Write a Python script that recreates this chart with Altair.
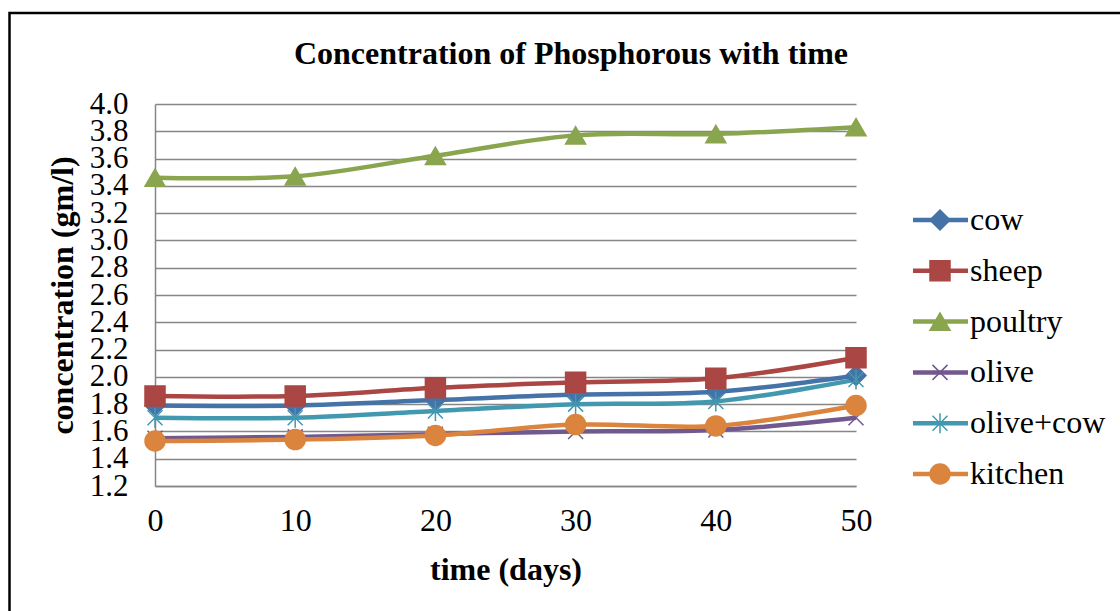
import altair as alt
import pandas as pd

# Phosphorous concentration (gm/l) measured every 10 days
days = [0, 10, 20, 30, 40, 50]
series_names = ["cow", "sheep", "poultry", "olive", "olive+cow", "kitchen"]
cow = [1.79, 1.79, 1.83, 1.87, 1.89, 2.01]
sheep = [1.86, 1.86, 1.92, 1.96, 1.99, 2.14]
poultry = [3.46, 3.47, 3.62, 3.77, 3.78, 3.83]
olive = [1.55, 1.56, 1.58, 1.60, 1.61, 1.70]
olive_cow = [1.70, 1.70, 1.75, 1.80, 1.82, 1.98]
kitchen = [1.53, 1.54, 1.57, 1.65, 1.64, 1.79]

y_ticks = [1.2, 1.4, 1.6, 1.8, 2.0, 2.2, 2.4, 2.6, 2.8, 3.0, 3.2, 3.4, 3.6, 3.8, 4.0]
x_ticks = [0, 10, 20, 30, 40, 50]

colors = ["#4572A7", "#AA4643", "#89A54E", "#71588F", "#4198AF", "#DB843D"]
shapes = [
    "diamond",
    "square",
    "triangle-up",
    "M-0.75,-0.75L0.75,0.75M0.75,-0.75L-0.75,0.75",
    "M-0.75,-0.75L0.75,0.75M0.75,-0.75L-0.75,0.75M0,-1L0,1",
    "circle",
]

title_text = "Concentration of Phosphorous with time"
FONT = "Liberation Serif"

values = [cow, sheep, poultry, olive, olive_cow, kitchen]
rows = []
for name, vals in zip(series_names, values):
    for d, v in zip(days, vals):
        rows.append({"time": d, "conc": v, "series": name})
df = pd.DataFrame(rows)
legend_df = pd.DataFrame({"series": series_names})

color_scale = alt.Scale(domain=series_names, range=colors)
shape_scale = alt.Scale(domain=series_names, range=shapes)
y_scale = alt.Scale(domain=[1.2, 4.0], nice=False, zero=False)
x_scale = alt.Scale(domain=[0, 50], nice=False)
legend_y = alt.Scale(type="point", domain=series_names, range=[116, 370], padding=0)

x_enc = alt.X(
    "time:Q", scale=x_scale,
    axis=alt.Axis(values=x_ticks, title="time (days)", grid=False, ticks=False,
                  labelFlush=False, labelPadding=19, titleY=93,
                  titleBaseline="alphabetic"),
)

lines = alt.Chart(df).mark_line(interpolate="catmull-rom", strokeWidth=4.5).encode(
    x=x_enc,
    y=alt.Y(
        "conc:Q", scale=y_scale,
        axis=alt.Axis(values=y_ticks, format=".1f", title="concentration (gm/l)",
                      ticks=False, labelPadding=27, labelFlush=False,
                      labelOverlap=False, labelFontSize=31,
                      titleX=-83, titleY=191,
                      titleBaseline="alphabetic", titleAngle=-90),
    ),
    color=alt.Color("series:N", scale=color_scale, legend=None),
)

points = alt.Chart(df).mark_point(filled=True, size=400, strokeWidth=1.5, opacity=1).encode(
    x=alt.X("time:Q", scale=x_scale),
    y=alt.Y("conc:Q", scale=y_scale, axis=None),
    fill=alt.Fill("series:N", scale=color_scale, legend=None),
    stroke=alt.Stroke("series:N", scale=color_scale, legend=None),
    shape=alt.Shape("series:N", scale=shape_scale, legend=None),
)

# legend drawn beside the plot: a short line, the marker and the name
leg_line = alt.Chart(legend_df).mark_rule(strokeWidth=4.5).encode(
    x=alt.value(758), x2=alt.value(813),
    y=alt.Y("series:N", scale=legend_y, axis=None),
    color=alt.Color("series:N", scale=color_scale, legend=None),
)
leg_point = alt.Chart(legend_df).mark_point(filled=True, size=400, strokeWidth=1.5, opacity=1).encode(
    x=alt.value(785),
    y=alt.Y("series:N", scale=legend_y, axis=None),
    fill=alt.Fill("series:N", scale=color_scale, legend=None),
    stroke=alt.Stroke("series:N", scale=color_scale, legend=None),
    shape=alt.Shape("series:N", scale=shape_scale, legend=None),
)
leg_text = alt.Chart(legend_df).mark_text(
    align="left", baseline="middle", font=FONT, fontSize=32, color="black"
).encode(
    x=alt.value(815),
    y=alt.Y("series:N", scale=legend_y, axis=None),
    text="series:N",
)

title = alt.Chart(pd.DataFrame({"t": [title_text]})).mark_text(
    align="center", baseline="alphabetic", font=FONT, fontSize=32,
    fontWeight="bold", color="black",
).encode(x=alt.value(416), y=alt.value(-40), text="t:N")

frame = alt.Chart(pd.DataFrame({"a": [0]})).mark_rect(
    fillOpacity=0, stroke="black", strokeWidth=2.5
).encode(x=alt.value(-145.5), x2=alt.value(1100), y=alt.value(-91), y2=alt.value(620))

chart = (
    alt.layer(frame, lines, points, leg_line, leg_point, leg_text, title)
    .resolve_scale(y="independent")
    .properties(
        width=701, height=382,
        autosize=alt.AutoSizeParams(type="none"),
        padding={"left": 155, "top": 104, "right": 264, "bottom": 125},
        background="white",
    )
    .configure_view(stroke=None)
    .configure_axis(
        labelFont=FONT, labelFontSize=32, labelColor="black",
        titleFont=FONT, titleFontSize=32, titleFontWeight="bold", titleColor="black",
        gridColor="#868686", gridWidth=1.5,
        domainColor="#868686", domainWidth=1.5,
    )
)

chart.save("out.html", embed_options={"renderer": "svg", "actions": False})
